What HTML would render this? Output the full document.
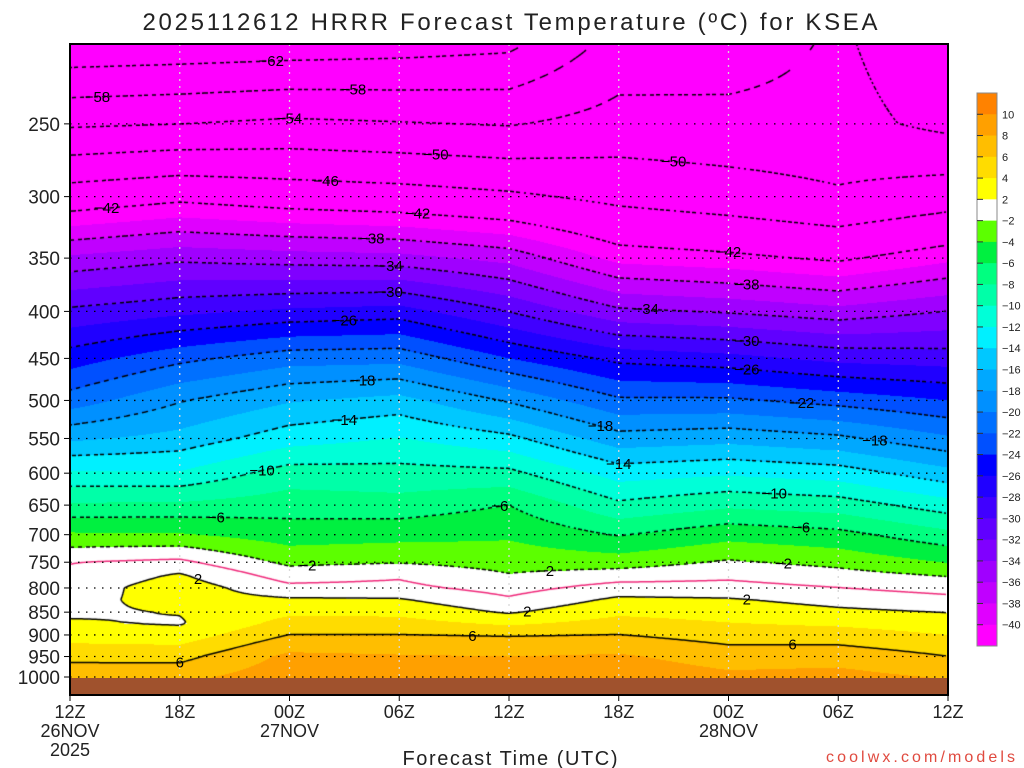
<!DOCTYPE html>
<html><head><meta charset="utf-8">
<style>
html,body{margin:0;padding:0;background:#fff;width:1024px;height:768px;overflow:hidden}
#wrap{position:relative;width:1024px;height:768px}
canvas{position:absolute;left:70px;top:44px}
svg{position:absolute;left:0;top:0}
text{font-family:"Liberation Sans",sans-serif;fill:#222}
</style></head><body>
<div id="wrap">
<canvas id="cv" width="878" height="634"></canvas>
<svg id="sv" width="1024" height="768">
<text x="510" y="30" text-anchor="middle" font-size="24" textLength="735">2025112612 HRRR Forecast Temperature (ºC) for KSEA</text>
<rect x="70" y="678" width="878" height="17" fill="#a0522d"/>
<g id="grid"></g>
<g id="labels"></g>
<rect x="70" y="44" width="878" height="651" fill="none" stroke="#000" stroke-width="2"/>
<g id="axes"></g>
<text x="510" y="765" text-anchor="middle" font-size="20" textLength="215">Forecast Time (UTC)</text>
<text x="1015" y="762" text-anchor="end" font-size="16" textLength="189" style="fill:#e04a3f">coolwx.com/models</text>
<g id="cbar"></g>
</svg>
</div>
<script>
const levels=[1000,950,900,875,850,825,800,775,750,700,650,600,550,500,450,400,350,300,250,200];
const hours=[0,6,12,18,24,30,36,42,48];
const h0=[7.5,5.3,3.2,2.2,1.7,1.3,0.9,0.4,-0.1,-3.7,-7.7,-11.7,-16.4,-21.1,-25.0,-29.6,-35.6,-44.1,-54.6,-66.4];
const h6=[7.4,5.3,2.9,1.8,2.1,2.8,3.1,2.2,0.4,-3.8,-7.6,-11.8,-15.3,-18.2,-22.6,-28.5,-34.5,-42.8,-54.1,-66.0];
const h12=[9.3,8.5,6.0,4.8,3.6,2.3,0.5,-1.0,-2.5,-5.0,-6.9,-9.1,-12.9,-16.2,-20.9,-27.6,-35.0,-43.8,-53.3,-65.6];
const h18=[9.3,8.2,6.0,4.8,3.5,2.2,0.5,-0.3,-2.2,-4.7,-7.2,-9.3,-11.9,-15.3,-20.7,-27.1,-35.3,-44.4,-53.8,-65.0];
const h24=[9.3,8.0,5.8,3.7,1.7,0.3,-0.8,-1.9,-2.8,-4.3,-6.0,-9.5,-13.5,-18.3,-24.0,-30.1,-36.7,-45.4,-54.3,-64.0];
const h30=[9.5,8.3,6.0,4.8,3.6,2.4,0.8,-1.1,-3.0,-6.2,-9.6,-12.9,-17.2,-21.7,-26.6,-33.6,-40.7,-47.0,-52.6,-57.0];
const h36=[8.5,7.0,5.1,4.1,3.2,2.2,0.7,-0.5,-1.8,-4.7,-8.4,-12.3,-16.7,-21.7,-27.3,-34.3,-41.4,-48.1,-52.8,-56.5];
const h42=[8.7,7.2,4.9,3.7,2.4,1.3,0.0,-1.3,-2.6,-5.4,-9.0,-13.0,-17.6,-22.8,-28.6,-35.3,-42.5,-49.5,-52.8,-53.5];
const h48=[7.8,6.0,4.0,3.0,1.9,0.6,-0.8,-2.2,-4.1,-7.4,-11.1,-15.3,-19.7,-24.0,-29.0,-34.0,-40.5,-47.9,-55.0,-57.0];
const series=[h0,h6,h12,h18,h24,h30,h36,h42,h48];
const yTicks=[250,300,350,400,450,500,550,600,650,700,750,800,850,900,950,1000];
const xTickHours=[0,6,12,18,24,30,36,42,48];
const xTickLabels=["12Z","18Z","00Z","06Z","12Z","18Z","00Z","06Z","12Z"];
const xDateLabels={0:["26NOV","2025"],12:["27NOV"],36:["28NOV"]};
const binEdges=[10,8,6,4,2,-2,-4,-6,-8,-10,-12,-14,-16,-18,-20,-22,-24,-26,-28,-30,-32,-34,-36,-38,-40];
const binColors=["#ff8200","#ffa000","#ffbe00","#ffdc00","#ffff00","#ffffff","#5cff00","#00f040","#00ff80","#00ffa8","#00ffd8","#00f0ff","#00c8ff","#00a8ff","#0090ff","#0070ff","#0050ff","#0000ff","#2000ff","#4000ff","#6000ff","#8000ff","#a000ff","#c000ff","#e000ff","#ff00ff"];
const contourLevels=[-62,-58,-54,-50,-46,-42,-38,-34,-30,-26,-22,-18,-14,-10,-6,-2,0,2,6,10];
const labelLevels=[-62,-58,-58,-54,-50,-50,-46,-42,-42,-42,-38,-38,-34,-34,-30,-30,-26,-26,-22,-18,-18,-18,-14,-14,-10,-10,-6,-6,-6,-2,-2,-2,2,2,2,6,6,6];
const labelHours=[11,1.5,15.5,12,20,33,14,2,19,36,16.5,37,17.5,31.5,17.5,37,15,37,40,16,29,44,15,30,10.5,38.5,8,23.5,40,13,26,39,7,25,37,6,22,39.5];

const X0=70,PW=878,Y1000=677,K=399;
function xOf(h){return X0+h*PW/48;}
function yOf(p){return Y1000-K*Math.log(1000/p);}
function pOfY(y){return 1000*Math.exp(-(Y1000-y)/K);}
const lnL=levels.map(v=>Math.log(v));
function T(h,p){
  let c=h/6;let i=Math.min(Math.max(Math.floor(c),0),7);let f=c-i;
  let lp=Math.log(p);let k=0;
  while(k<levels.length-2&&lp<lnL[k+1])k++;
  let g=(lnL[k]-lp)/(lnL[k]-lnL[k+1]);
  const a=series[i],b=series[i+1];
  const va=a[k]+(a[k+1]-a[k])*g, vb=b[k]+(b[k+1]-b[k])*g;
  return va+(vb-va)*f;
}
function colorIdx(t){for(let i=0;i<binEdges.length;i++){if(t>=binEdges[i])return i;}return binEdges.length;}
function hex(c){return [parseInt(c.substr(1,2),16),parseInt(c.substr(3,2),16),parseInt(c.substr(5,2),16)];}
const rgb=binColors.map(hex);
const cv=document.getElementById('cv');const ctx=cv.getContext('2d');
const W=cv.width,H=cv.height;
const field=new Float32Array(W*H);
const img=ctx.createImageData(W,H);
for(let j=0;j<H;j++){const p=pOfY(44+j+0.5);for(let i=0;i<W;i++){const h=(i+0.5)*48/PW;const t=T(h,p);field[j*W+i]=t;const c=rgb[colorIdx(t)];const o=(j*W+i)*4;img.data[o]=c[0];img.data[o+1]=c[1];img.data[o+2]=c[2];img.data[o+3]=255;}}
ctx.putImageData(img,0,0);
const S=2;
function val(i,j){return field[Math.min(j,H-1)*W+Math.min(i,W-1)];}
contourLevels.forEach(lv=>{
  ctx.beginPath();
  const segs=[];
  for(let j=0;j+S<H;j+=S){for(let i=0;i+S<W;i+=S){
    const a=val(i,j),b=val(i+S,j),c=val(i+S,j+S),d=val(i,j+S);
    const pts=[];
    function ed(v1,v2,x1,y1,x2,y2){if((v1-lv)*(v2-lv)<0){const f=(lv-v1)/(v2-v1);pts.push([x1+(x2-x1)*f,y1+(y2-y1)*f]);}}
    ed(a,b,i,j,i+S,j);ed(b,c,i+S,j,i+S,j+S);ed(c,d,i+S,j+S,i,j+S);ed(d,a,i,j+S,i,j);
    if(pts.length>=2)segs.push([pts[0],pts[1]]);
    if(pts.length===4)segs.push([pts[2],pts[3]]);
  }}
  segs.forEach(s=>{
    if(lv<0){const mx=(s[0][0]+s[1][0])/2,my=(s[0][1]+s[1][1])/2;if(((mx+my)%7)>4)return;}
    ctx.moveTo(s[0][0],s[0][1]);ctx.lineTo(s[1][0],s[1][1]);
  });
  ctx.strokeStyle=lv===0?'#f0287a':'#000';ctx.lineWidth=1.5;ctx.stroke();
});
const NS='http://www.w3.org/2000/svg';
function mk(tag,attrs,parent){const e=document.createElementNS(NS,tag);for(const k in attrs)e.setAttribute(k,attrs[k]);parent.appendChild(e);return e;}
const grid=document.getElementById('grid'),axes=document.getElementById('axes'),labels=document.getElementById('labels'),cbar=document.getElementById('cbar');
yTicks.forEach(p=>{
  const y=yOf(p);
  const gl=mk('line',{x1:X0,x2:X0+PW,y1:y,y2:y,stroke:'#000','stroke-width':1.3,'stroke-dasharray':'1.5 6.5'},grid);
  
  
  const tk=mk('line',{x1:X0-6,x2:X0,y1:y,y2:y,stroke:'#000','stroke-width':1},axes);
  
  
  const t=mk('text',{x:60,y:y+7,'text-anchor':'end','font-size':19},axes);
  t.textContent=p;
  
  
});
xTickHours.forEach((h,k)=>{
  const x=xOf(h);
  if(k>0&&k<xTickHours.length-1){const vl=mk('line',{x1:x,x2:x,y1:44,y2:678,stroke:'#d8d8d8','stroke-width':1.3,'stroke-dasharray':'2 5'},grid);
  
  }
  const tk=mk('line',{x1:x,x2:x,y1:695,y2:701,stroke:'#000','stroke-width':1},axes);
  
  
  const t=mk('text',{x:x,y:718,'text-anchor':'middle','font-size':18},axes);
  t.textContent=xTickLabels[k];
  
  
  const d=xDateLabels[h];
  if(d){d.forEach((s,m)=>{const dt=mk('text',{x:x,y:737+m*19,'text-anchor':'middle','font-size':18},axes);dt.textContent=s;
  
  });}
});
labelLevels.forEach((lv,k)=>{
  const h=labelHours[k];const x=xOf(h);const i=Math.min(W-1,Math.max(0,Math.round(x-X0)));
  let yy=null;
  for(let j=0;j<H-1;j++){const a=field[j*W+i],b=field[(j+1)*W+i];if((a-lv)*(b-lv)<=0&&a!==b){yy=44+j+(lv-a)/(b-a);break;}}
  if(yy===null)return;
  const t=mk('text',{x:x,y:yy+5,'text-anchor':'middle','font-size':15,style:'fill:#000'},labels);
  t.textContent=lv<0?'\u2212'+(-lv):String(lv);
  
  
});
const cb0=93,cbH=553,nb=binColors.length,bh=cbH/nb;
binColors.forEach((c,k)=>{
  const r=mk('rect',{x:977,y:cb0+k*bh,width:20,height:bh+0.5,fill:c},cbar);
  
  
});
const fr=mk('rect',{x:977,y:cb0,width:20,height:cbH,fill:'none',stroke:'#888','stroke-width':1},cbar);


binEdges.forEach((e,k)=>{
  const y=cb0+(k+1)*bh;
  const tk=mk('line',{x1:977,x2:983,y1:y,y2:y,stroke:'#333','stroke-width':1},cbar);
  
  
  const t=mk('text',{x:1002,y:y+4,'font-size':11},cbar);
  t.textContent=e<0?'\u2212'+(-e):String(e);
  
  
});
</script>
</body></html>
